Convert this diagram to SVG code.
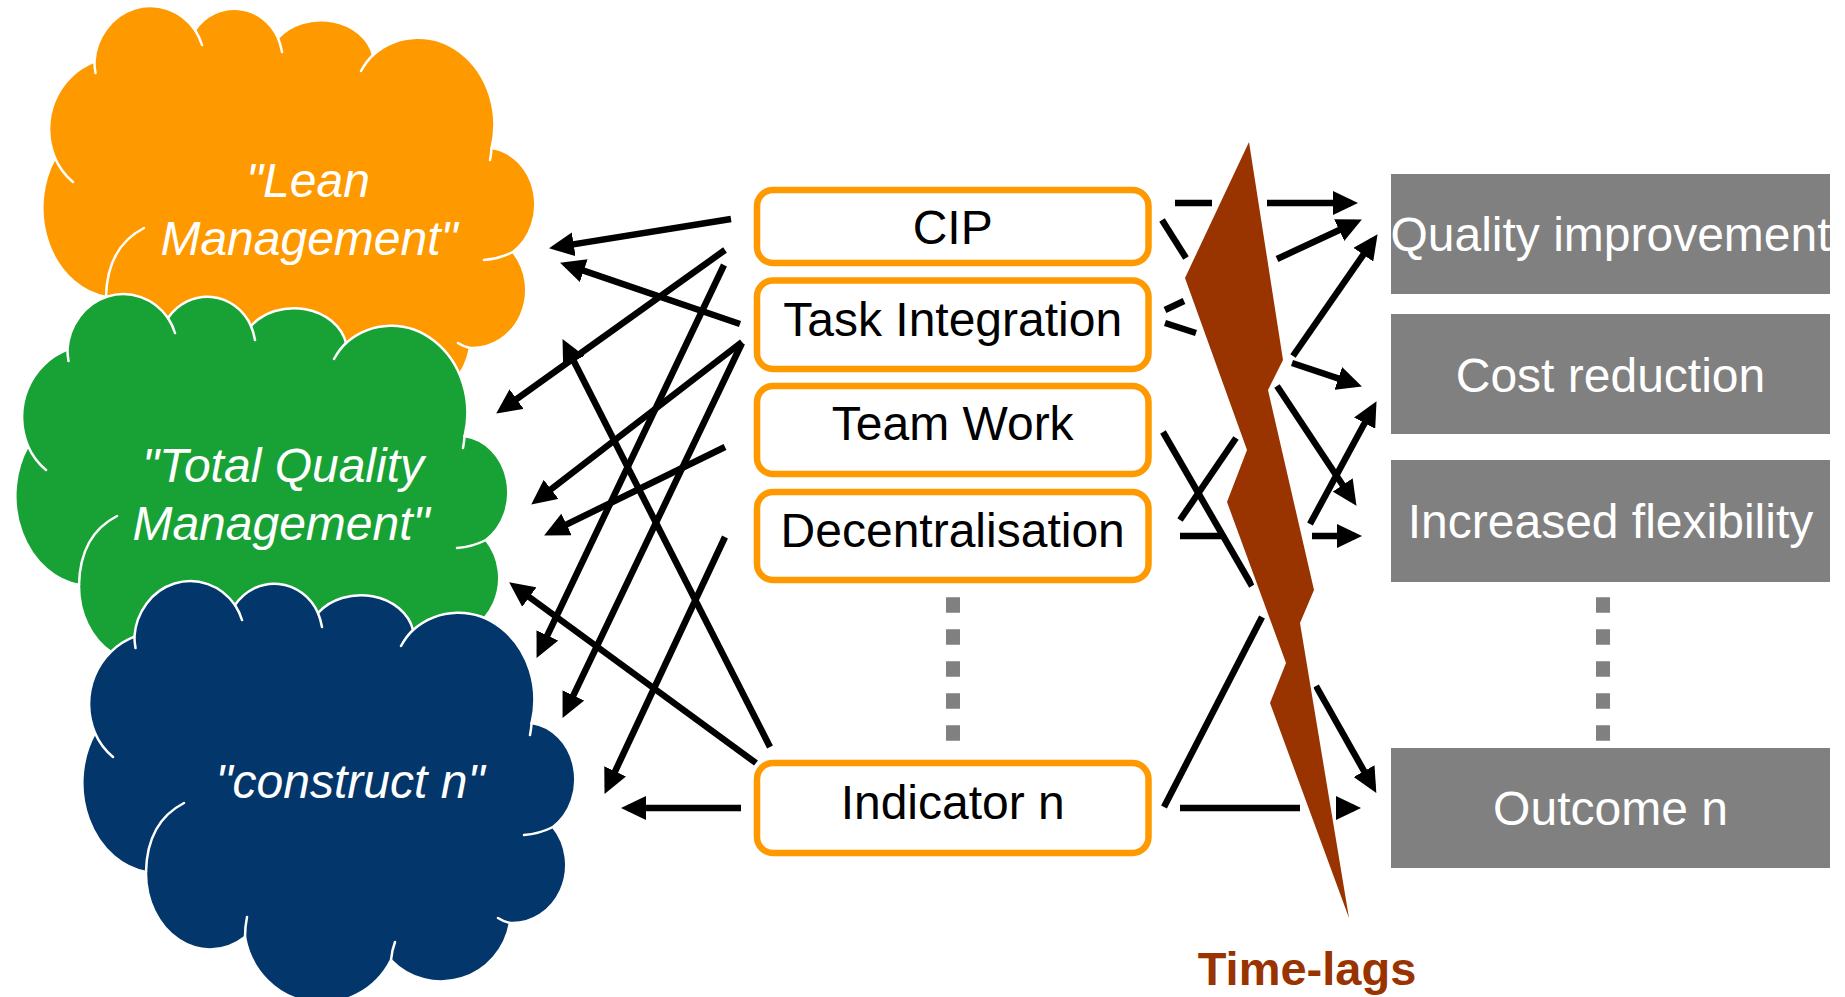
<svg xmlns="http://www.w3.org/2000/svg" xmlns:xlink="http://www.w3.org/1999/xlink" width="1845" height="997" viewBox="0 0 1845 997">
  <style>
    .cloud-tick { fill: none; stroke: #ffffff; stroke-width: 2.5; stroke-linecap: round; }
    .cloud-edge { stroke: #ffffff; stroke-width: 2.5; }
    .cloud-text { font-family: "Liberation Sans", Arial, sans-serif; font-style: italic; font-size: 48px; fill: #ffffff; text-anchor: middle; }
    .ind-box { fill: #ffffff; stroke: #FF9900; stroke-width: 6.5; }
    .ind-text { font-family: "Liberation Sans", Arial, sans-serif; font-size: 48px; fill: #000000; text-anchor: middle; }
    .out-box { fill: #808080; }
    .out-text { font-family: "Liberation Sans", Arial, sans-serif; font-size: 48px; fill: #ffffff; text-anchor: middle; }
    .dots { fill: none; stroke: #808080; stroke-width: 14; stroke-dasharray: 15.5 16.5; }
    .link { fill: none; stroke: #000000; stroke-width: 6.5; }
    .arrow { marker-end: url(#ah); }
    .bolt { fill: #993300; stroke: #ffffff; stroke-width: 6; paint-order: stroke; stroke-linejoin: miter; }
    .lag-text { font-family: "Liberation Sans", Arial, sans-serif; font-weight: bold; font-size: 47px; fill: #993300; text-anchor: middle; }
  </style>
  <defs>
    <marker id="ah" markerUnits="userSpaceOnUse" markerWidth="25" markerHeight="24" refX="18" refY="12" orient="auto">
      <path d="M0,0 L25,12 L0,24 z" fill="#000000"/>
    </marker>
    <!-- cloud outline in local coordinates (about 495 x 420) -->
    <g id="cloudShape">
      <path class="cloud-edge" d="M53.4,54.7 A56,60 0 0 1 154,23 A48,50 0 0 1 237,31 A53,43 0 0 1 332,48 A76,87 0 0 1 450.6,141 A50,57 0 0 1 472,245 A54,58 0 0 1 429,341 A70,71 0 0 1 310,378 A78,80 0 0 1 164,355 A64,76 0 0 1 65,290 A75,90 0 0 1 14,151 A70,72 0 0 1 53.4,54.7 Z"/>
      <path class="cloud-tick" d="M53.4,54.7 Q53.5,60 54.5,66 M154,23 Q158.5,30 161,38 M237,31 Q239.5,37 241,45 M332,48 Q325.5,54 320,64 M450.6,141 Q450.2,147 449,153 M472,245 Q458,252 443,253 M429,341 Q423,340 417,336 M310,378 Q311,368 314,360 M164,355 Q164,345 166,335 M65,290 Q66,240 103,221 M14,151 Q20,165 32,175"/>
    </g>
  </defs>

  <rect width="1845" height="997" fill="#ffffff"/>

  <!-- constructs -->
  <g id="lean">
    <use xlink:href="#cloudShape" href="#cloudShape" transform="translate(41,7)" fill="#FF9900"/>
    <text class="cloud-text" x="308" y="197">"Lean</text>
    <text class="cloud-text" x="309" y="255">Management"</text>
  </g>
  <g id="tqm">
    <use xlink:href="#cloudShape" href="#cloudShape" transform="translate(14,295)" fill="#18A236"/>
    <text class="cloud-text" x="283" y="482">"Total Quality</text>
    <text class="cloud-text" x="281" y="540">Management"</text>
  </g>
  <g id="construct-n">
    <use xlink:href="#cloudShape" href="#cloudShape" transform="translate(81,582)" fill="#03366A"/>
    <text class="cloud-text" x="350" y="798">"construct n"</text>
  </g>

  <!-- indicators -->
  <g id="cip">
    <rect class="ind-box" x="757" y="190" width="391.5" height="73" rx="16"/>
    <text class="ind-text" x="952.7" y="244">CIP</text>
  </g>
  <g id="task-integration">
    <rect class="ind-box" x="757" y="280.5" width="391.5" height="88.5" rx="16"/>
    <text class="ind-text" x="952.7" y="336">Task Integration</text>
  </g>
  <g id="team-work">
    <rect class="ind-box" x="757" y="386" width="391.5" height="88" rx="16"/>
    <text class="ind-text" x="952.7" y="440">Team Work</text>
  </g>
  <g id="decentralisation">
    <rect class="ind-box" x="757" y="492" width="391.5" height="88" rx="16"/>
    <text class="ind-text" x="952.7" y="547">Decentralisation</text>
  </g>
  <g id="indicator-dots">
    <line class="dots" x1="953" y1="597.3" x2="953" y2="741"/>
  </g>
  <g id="indicator-n">
    <rect class="ind-box" x="757" y="763" width="391.5" height="90" rx="16"/>
    <text class="ind-text" x="952.7" y="819">Indicator n</text>
  </g>

  <!-- outcomes -->
  <g id="quality-improvement">
    <rect class="out-box" x="1391" y="174" width="439" height="120"/>
    <text class="out-text" x="1610.5" y="251">Quality improvement</text>
  </g>
  <g id="cost-reduction">
    <rect class="out-box" x="1391" y="314" width="439" height="120"/>
    <text class="out-text" x="1610.5" y="392">Cost reduction</text>
  </g>
  <g id="increased-flexibility">
    <rect class="out-box" x="1391" y="460" width="439" height="122"/>
    <text class="out-text" x="1610.5" y="538">Increased flexibility</text>
  </g>
  <g id="outcome-dots">
    <line class="dots" x1="1603" y1="597.3" x2="1603" y2="741"/>
  </g>
  <g id="outcome-n">
    <rect class="out-box" x="1391" y="748" width="439" height="120"/>
    <text class="out-text" x="1610.5" y="825">Outcome n</text>
  </g>

  <!-- connectors -->
  <g id="connectors">
    <!-- indicators to constructs -->
    <line class="link arrow" x1="731" y1="219" x2="555.9" y2="247.1"/>
    <line class="link arrow" x1="740" y1="324" x2="566.7" y2="264.9"/>
    <line class="link arrow" x1="725" y1="250" x2="501.9" y2="409.5"/>
    <line class="link arrow" x1="724" y1="265" x2="539.6" y2="651.6"/>
    <line class="link arrow" x1="742" y1="342" x2="536.8" y2="500.3"/>
    <line class="link arrow" x1="742" y1="343" x2="565.6" y2="711.6"/>
    <line class="link arrow" x1="725" y1="447" x2="550.4" y2="532.4"/>
    <line class="link arrow" x1="770" y1="747" x2="565.7" y2="345.3"/>
    <line class="link arrow" x1="725" y1="537" x2="607.5" y2="787.6"/>
    <line class="link arrow" x1="756" y1="763" x2="514.8" y2="586.5"/>
    <line class="link arrow" x1="741" y1="808" x2="628" y2="808"/>

    <!-- indicators to outcomes, broken by the time-lag -->
    <line class="link" x1="1175" y1="203" x2="1212" y2="203"/>
    <line class="link arrow" x1="1267" y1="203" x2="1351" y2="203"/>

    <line class="link" x1="1162" y1="220" x2="1186" y2="258"/>
    <line class="link arrow" x1="1277" y1="386" x2="1352.6" y2="500"/>

    <line class="link" x1="1165" y1="310" x2="1184" y2="301"/>
    <line class="link arrow" x1="1277" y1="259" x2="1355.5" y2="222.5"/>

    <line class="link" x1="1165" y1="323" x2="1196" y2="333"/>
    <line class="link arrow" x1="1292" y1="363" x2="1355.3" y2="384.2"/>

    <line class="link" x1="1180" y1="520" x2="1236" y2="438"/>
    <line class="link arrow" x1="1293" y1="356" x2="1373.6" y2="239.9"/>

    <line class="link" x1="1163" y1="432" x2="1252" y2="586"/>
    <line class="link arrow" x1="1316" y1="686" x2="1372.9" y2="786.8"/>

    <line class="link" x1="1180" y1="536" x2="1222" y2="536"/>
    <line class="link arrow" x1="1312" y1="536" x2="1355" y2="536"/>

    <line class="link" x1="1164" y1="807" x2="1262" y2="617"/>
    <line class="link arrow" x1="1310" y1="524" x2="1373.2" y2="407.3"/>

    <line class="link" x1="1180" y1="808" x2="1300" y2="808"/>
    <line class="link arrow" x1="1346" y1="808" x2="1354" y2="808"/>
  </g>

  <!-- time-lag bolt -->
  <g id="time-lags">
    <polygon class="bolt" points="1249,142 1283,360 1268,390 1314,590 1300,623 1349,918 1270,703 1286,663 1227,502 1247,450 1185,278"/>
    <text class="lag-text" x="1307" y="985">Time-lags</text>
  </g>
</svg>
